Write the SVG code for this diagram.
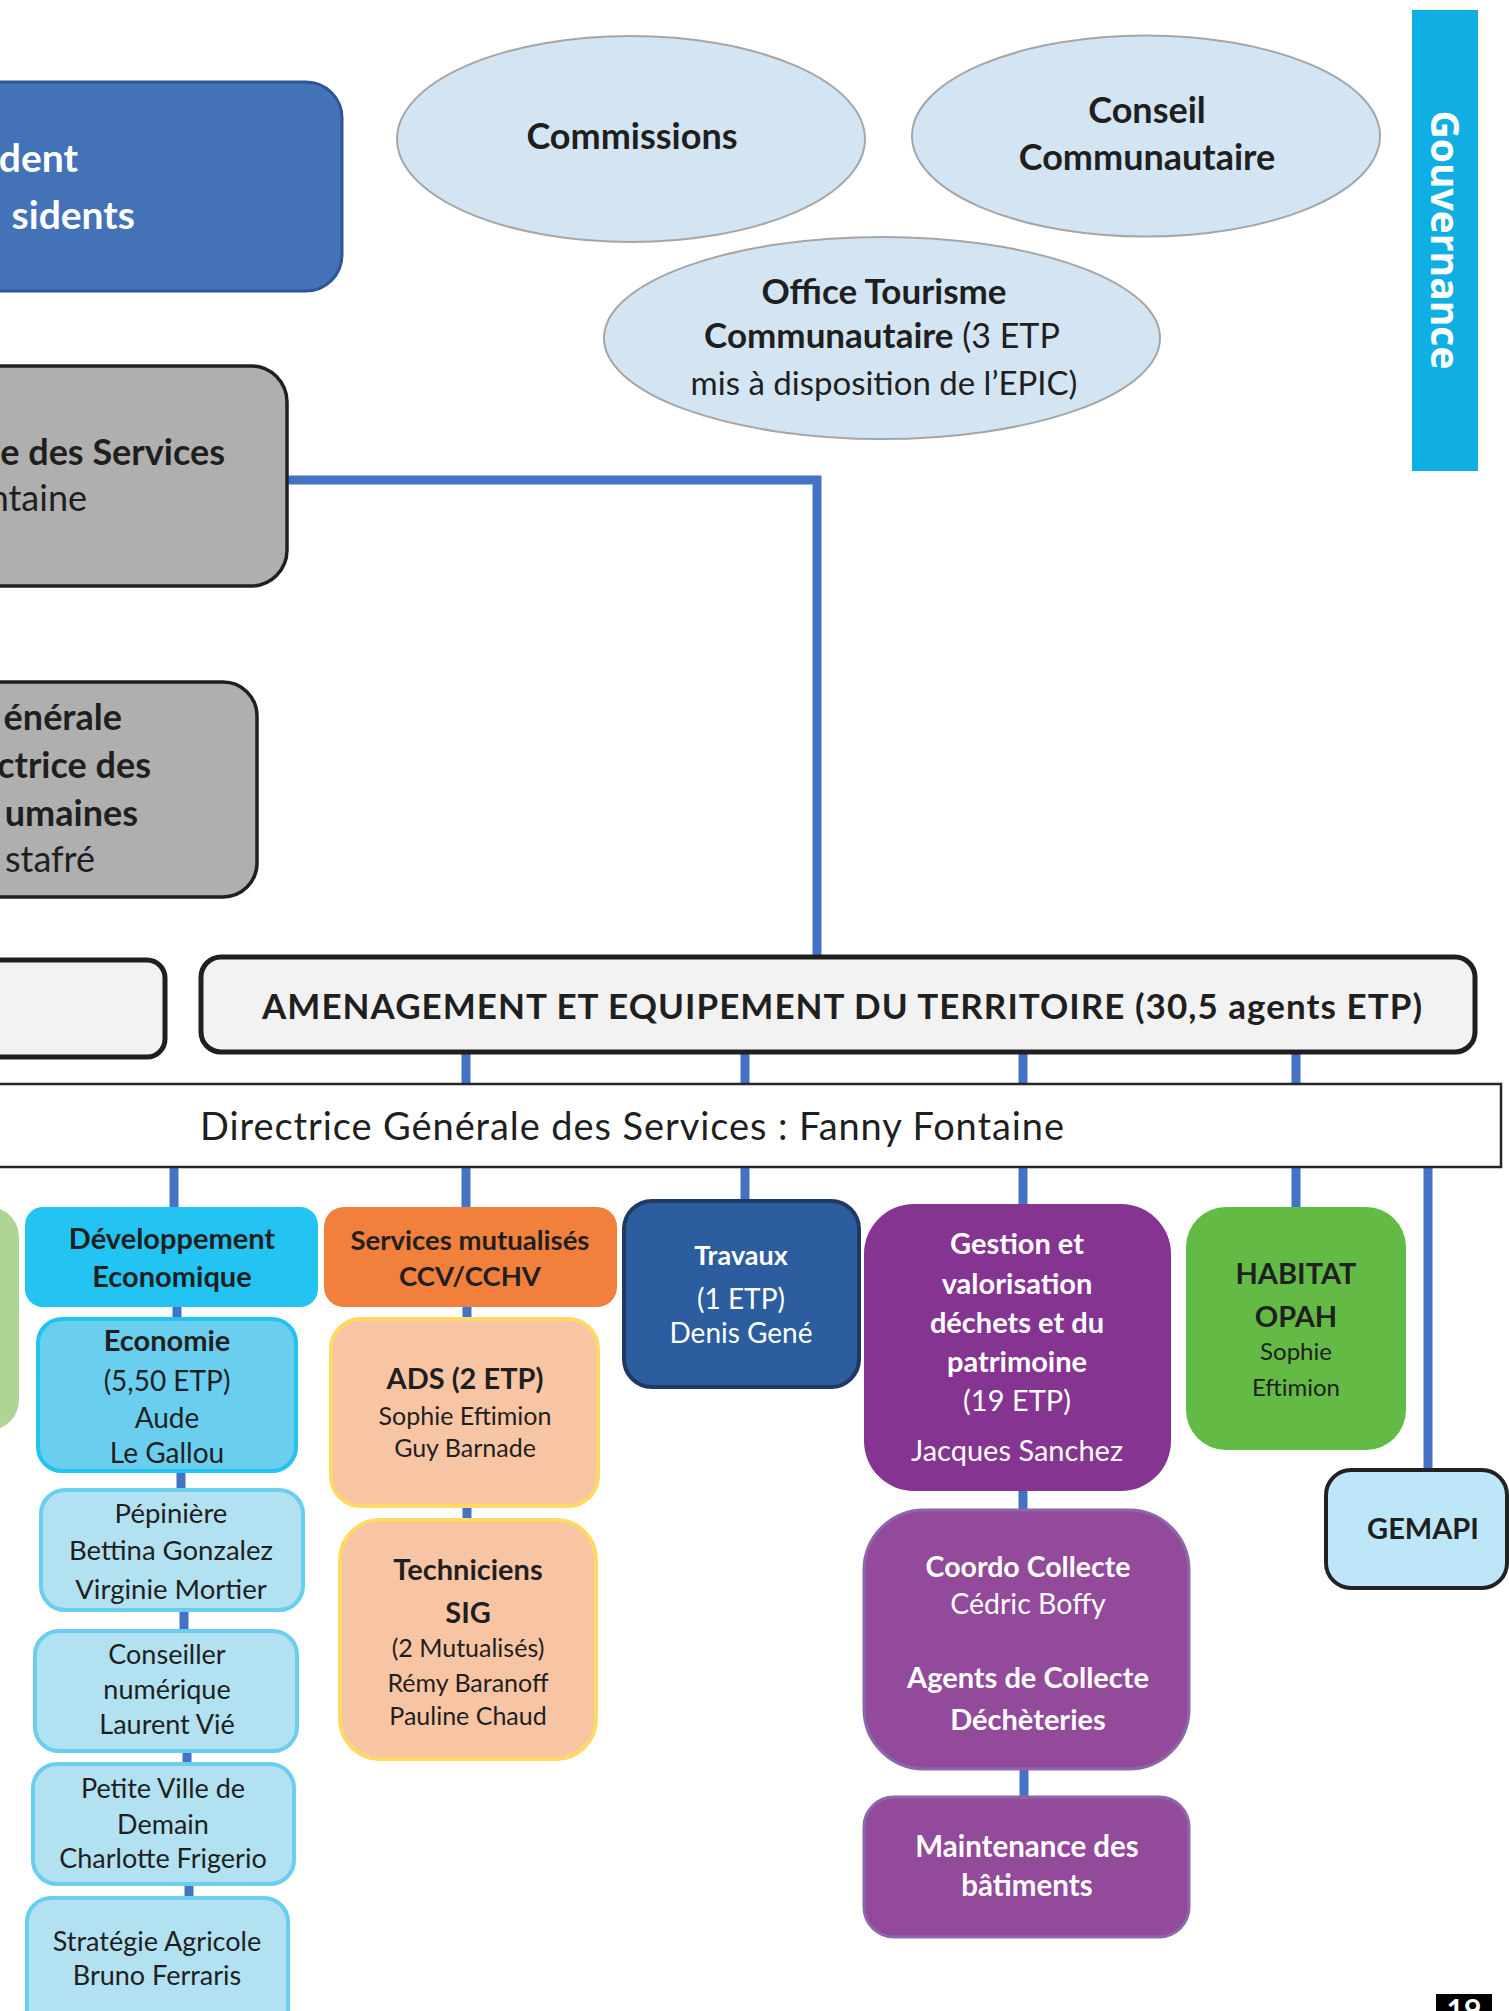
<svg xmlns="http://www.w3.org/2000/svg" width="1509" height="2011" viewBox="0 0 1509 2011">
<defs>
<style>
text{font-family:Lato,"Open Sans","Liberation Sans",sans-serif;fill:#1F1F1F}
.b{font-weight:700}
.r{font-weight:400}
.w{fill:#FFFFFF}
.m{text-anchor:middle}
.e{text-anchor:end}
.conn{stroke:#4472C4;stroke-width:9;fill:none}
.ell{fill:#D3E4F2;stroke:#A6A6A6;stroke-width:2}
.gray{fill:#AFAFAF;stroke:#231F20;stroke-width:3.5}
.lb{fill:#B2E1F1;stroke:#6ACEEF;stroke-width:4}
.peach{fill:#F7C4A4;stroke:#FFD966;stroke-width:4}
.purp{fill:#934A9B;stroke:#8C67AA;stroke-width:3}
</style>
</defs>
<rect width="1509" height="2011" fill="#FFFFFF"/>

<g id="connectors">
<path class="conn" d="M287,480 H817 V957"/>
<path class="conn" d="M466,1050 V1086 M745,1050 V1086 M1023,1050 V1086 M1296,1050 V1086"/>
<path class="conn" d="M174,1165 V1209 M466,1165 V1209 M745,1165 V1203 M1023,1165 V1206 M1296,1165 V1209 M1428,1165 V1472"/>
<path class="conn" d="M177,1305 V1321 M181,1469 V1492 M184,1608 V1633 M187,1749 V1766 M189,1882 V1900"/>
<path class="conn" d="M467,1305 V1321 M467,1504 V1522"/>
<path class="conn" d="M1023,1489 V1512 M1024,1767 V1799"/>
</g>

<g id="president">
<rect x="-40" y="82" width="382" height="209" rx="36" fill="#4372B7" stroke="#2E5597" stroke-width="3"/>
<text class="b w e" x="78" y="172" font-size="39">dent</text>
<text class="b w e" x="135" y="229" font-size="39">sidents</text>
</g>

<g id="directeur-services">
<rect class="gray" x="-40" y="366" width="327" height="220" rx="36"/>
<text class="b e" x="225" y="465" font-size="36">e des Services</text>
<text class="r e" x="87" y="511" font-size="36">ntaine</text>
</g>

<g id="drh">
<rect class="gray" x="-40" y="682" width="297" height="215" rx="34"/>
<text class="b e" x="122" y="730" font-size="36">énérale</text>
<text class="b e" x="151" y="778" font-size="36">ctrice des</text>
<text class="b e" x="138" y="826" font-size="36">umaines</text>
<text class="r e" x="95" y="872" font-size="36">stafré</text>
</g>

<g id="commissions">
<ellipse class="ell" cx="631" cy="139" rx="234" ry="103"/>
<text class="b m" x="632" y="149" font-size="36">Commissions</text>
</g>

<g id="conseil">
<ellipse class="ell" cx="1146" cy="136" rx="234" ry="100.5"/>
<text class="b m" x="1147" y="123" font-size="36">Conseil</text>
<text class="b m" x="1147" y="170" font-size="36">Communautaire</text>
</g>

<g id="office-tourisme">
<ellipse class="ell" cx="882" cy="338" rx="278" ry="101"/>
<text class="b m" x="884" y="304" font-size="35">Office Tourisme</text>
<text class="m" x="882" y="348" font-size="34"><tspan class="b" font-size="35">Communautaire</tspan><tspan class="r"> (3 ETP</tspan></text>
<text class="r m" x="884" y="395" font-size="33">mis à disposition de l’EPIC)</text>
</g>

<g id="gouvernance">
<rect x="1412" y="10" width="66" height="461" fill="#10AFE3"/>
<text class="w m" transform="translate(1431,240) rotate(90)" x="0" y="0" font-weight="700" font-size="39" style="font-family:'Open Sans',sans-serif">Gouvernance</text>
</g>

<g id="pole-gauche">
<rect x="-30" y="960" width="195" height="97" rx="18" fill="#F2F2F2" stroke="#1F1F1F" stroke-width="5"/>
</g>

<g id="amenagement">
<rect x="201" y="957" width="1274" height="95" rx="20" fill="#F2F2F2" stroke="#1F1F1F" stroke-width="5"/>
<text class="b" x="262" y="1019" font-size="35" textLength="1160" lengthAdjust="spacing">AMENAGEMENT ET EQUIPEMENT DU TERRITOIRE (30,5 agents ETP)</text>
</g>

<g id="directrice">
<rect x="-10" y="1084" width="1511" height="83" fill="#FFFFFF" stroke="#262626" stroke-width="2.5"/>
<text class="r" x="200" y="1140" font-size="38" textLength="864" lengthAdjust="spacing">Directrice Générale des Services : Fanny Fontaine</text>
</g>

<g id="vert-partiel">
<rect x="-40" y="1207" width="59" height="223" rx="30" fill="#AED594"/>
</g>

<g id="developpement">
<rect x="25" y="1207" width="293" height="100" rx="18" fill="#23C4F2"/>
<text class="b m" x="172" y="1249" font-size="29">Développement</text>
<text class="b m" x="172" y="1287" font-size="29">Economique</text>
</g>

<g id="economie">
<rect x="38" y="1319" width="258" height="152" rx="24" fill="#6ACEEF" stroke="#22C3F1" stroke-width="4"/>
<text class="b m" x="167" y="1351" font-size="29">Economie</text>
<text class="r m" x="167" y="1391" font-size="28">(5,50 ETP)</text>
<text class="r m" x="167" y="1428" font-size="28">Aude</text>
<text class="r m" x="167" y="1463" font-size="28">Le Gallou</text>
</g>

<g id="pepiniere">
<rect class="lb" x="41" y="1490" width="262" height="120" rx="24"/>
<text class="r m" x="171" y="1523" font-size="27.5">Pépinière</text>
<text class="r m" x="171" y="1560" font-size="27.5">Bettina Gonzalez</text>
<text class="r m" x="171" y="1599" font-size="27.5">Virginie Mortier</text>
</g>

<g id="conseiller-numerique">
<rect class="lb" x="35" y="1631" width="262" height="120" rx="24"/>
<text class="r m" x="167" y="1664" font-size="27">Conseiller</text>
<text class="r m" x="167" y="1699" font-size="27">numérique</text>
<text class="r m" x="167" y="1734" font-size="27">Laurent Vié</text>
</g>

<g id="petite-ville">
<rect class="lb" x="33" y="1764" width="261" height="120" rx="24"/>
<text class="r m" x="163" y="1798" font-size="27">Petite Ville de</text>
<text class="r m" x="163" y="1834" font-size="27">Demain</text>
<text class="r m" x="163" y="1868" font-size="27">Charlotte Frigerio</text>
</g>

<g id="strategie-agricole">
<rect class="lb" x="27" y="1898" width="261" height="140" rx="24"/>
<text class="r m" x="157" y="1951" font-size="27">Stratégie Agricole</text>
<text class="r m" x="157" y="1985" font-size="27">Bruno Ferraris</text>
</g>

<g id="services-mutualises">
<rect x="324" y="1207" width="293" height="100" rx="20" fill="#F1803D"/>
<text class="b m" x="470" y="1250" font-size="27.5">Services mutualisés</text>
<text class="b m" x="470" y="1286" font-size="27.5">CCV/CCHV</text>
</g>

<g id="ads">
<rect class="peach" x="331" y="1319" width="267" height="187" rx="30"/>
<text class="b m" x="465" y="1389" font-size="29">ADS (2 ETP)</text>
<text class="r m" x="465" y="1425" font-size="25">Sophie Eftimion</text>
<text class="r m" x="465" y="1457" font-size="25">Guy Barnade</text>
</g>

<g id="techniciens-sig">
<rect class="peach" x="340" y="1520" width="256" height="239" rx="40"/>
<text class="b m" x="468" y="1580" font-size="29">Techniciens</text>
<text class="b m" x="468" y="1623" font-size="29">SIG</text>
<text class="r m" x="468" y="1657" font-size="25">(2 Mutualisés)</text>
<text class="r m" x="468" y="1692" font-size="25">Rémy Baranoff</text>
<text class="r m" x="468" y="1725" font-size="25">Pauline Chaud</text>
</g>

<g id="travaux">
<rect x="624" y="1201" width="235" height="186" rx="28" fill="#2C5D9E" stroke="#1F3864" stroke-width="4"/>
<text class="b m w" x="741" y="1265" font-size="27">Travaux</text>
<text class="r m w" x="741" y="1309" font-size="28">(1 ETP)</text>
<text class="r m w" x="741" y="1343" font-size="28">Denis Gené</text>
</g>

<g id="gestion-dechets">
<rect x="864" y="1204" width="307" height="287" rx="50" fill="#853591"/>
<text class="b m w" x="1017" y="1254" font-size="29">Gestion et</text>
<text class="b m w" x="1017" y="1294" font-size="29">valorisation</text>
<text class="b m w" x="1017" y="1333" font-size="29">déchets et du</text>
<text class="b m w" x="1017" y="1372" font-size="29">patrimoine</text>
<text class="r m w" x="1017" y="1411" font-size="29">(19 ETP)</text>
<text class="r m w" x="1017" y="1461" font-size="29">Jacques Sanchez</text>
</g>

<g id="habitat">
<rect x="1186" y="1207" width="220" height="243" rx="40" fill="#63BB46"/>
<text class="b m" x="1296" y="1284" font-size="29">HABITAT</text>
<text class="b m" x="1296" y="1327" font-size="29">OPAH</text>
<text class="r m" x="1296" y="1360" font-size="24">Sophie</text>
<text class="r m" x="1296" y="1396" font-size="24">Eftimion</text>
</g>

<g id="gemapi">
<rect x="1326" y="1470" width="181" height="118" rx="25" fill="#BDE6F8" stroke="#222222" stroke-width="4"/>
<text class="b m" x="1423" y="1539" font-size="29">GEMAPI</text>
</g>

<g id="coordo-collecte">
<rect class="purp" x="864" y="1510" width="325" height="259" rx="60"/>
<text class="b m w" x="1028" y="1577" font-size="28.5">Coordo Collecte</text>
<text class="r m w" x="1028" y="1614" font-size="28.5">Cédric Boffy</text>
<text class="b m w" x="1028" y="1688" font-size="29">Agents de Collecte</text>
<text class="b m w" x="1028" y="1730" font-size="29">Déchèteries</text>
</g>

<g id="maintenance">
<rect class="purp" x="864" y="1797" width="325" height="140" rx="30"/>
<text class="b m w" x="1027" y="1857" font-size="29.5">Maintenance des</text>
<text class="b m w" x="1027" y="1896" font-size="29.5">bâtiments</text>
</g>

<g id="page-number">
<rect x="1436" y="1994" width="56" height="30" fill="#000000"/>
<text class="b m w" x="1464" y="2021" font-size="30">19</text>
</g>
</svg>
